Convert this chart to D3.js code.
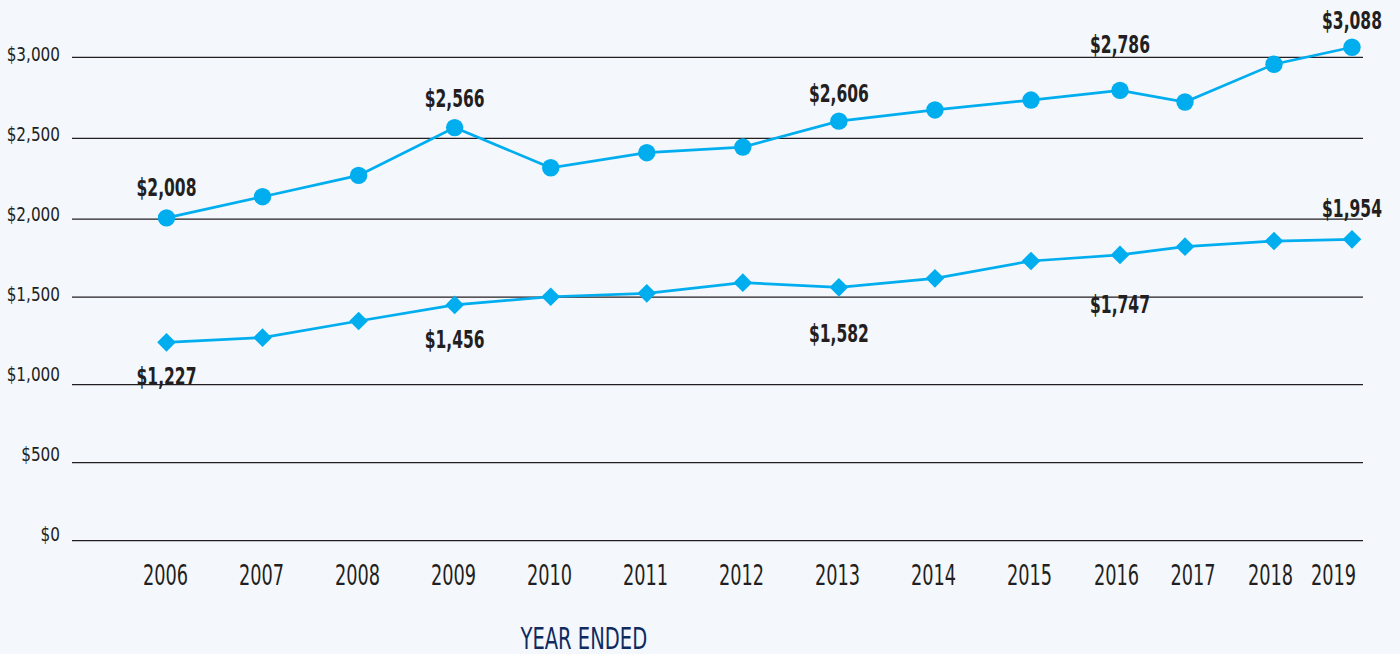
<!DOCTYPE html>
<html>
<head>
<meta charset="utf-8">
<script src="https://cdn.jsdelivr.net/npm/d3@7"></script>
<style>
  body { margin:0; background:#f4f7fc; }
  svg { display:block; }
  text { font-family:"Liberation Sans Narrow","Arial Narrow","DejaVu Sans Condensed",sans-serif; fill:#231f20; }
</style>
</head>
<body>
<svg id="chart" width="1400" height="654"></svg>
<script>
var years = [2006,2007,2008,2009,2010,2011,2012,2013,2014,2015,2016,2017,2018,2019]
// upper line, circles
var circleValues = [2008,2139,2271,2566,2318,2411,2446,2606,2675,2736,2796,2724,2957,3062]
// lower line, diamonds
var diamondValues = [1242,1269,1364,1456,1503,1525,1593,1563,1621,1732,1771,1824,1860,1871]
var yTicks = [0,500,1000,1500,2000,2500,3000]
var circleLabels = [[2006,"$2,008"],[2009,"$2,566"],[2013,"$2,606"],[2016,"$2,786"],[2019,"$3,088"]]
var diamondLabels = [[2006,"$1,227"],[2009,"$1,456"],[2013,"$1,582"],[2016,"$1,747"],[2019,"$1,954"]]
var axisTitle = "YEAR ENDED"

var blue = "#00aeef"
var svg = d3.select("#chart")

// the year spacing in the original is not even towards the end
var x = d3.scaleLinear()
  .domain([2006,2015,2016,2017,2018,2019])
  .range([166.5,1031,1120,1185,1274,1352])
var xLabel = d3.scaleLinear()
  .domain([2006,2015,2016,2017,2018,2019])
  .range([165,1029,1116,1192.5,1270,1333])
// gridlines are not quite evenly spaced either
var y = d3.scaleLinear()
  .domain(yTicks)
  .range([540.7,462.7,384.7,297.2,219.2,138.3,57.3])
var yLabel = d3.scaleLinear().domain([0,3000]).range([540,60.7])

var grid = svg.append("g")
grid.selectAll("line").data(yTicks).enter().append("line")
  .attr("x1", 72).attr("x2", 1363)
  .attr("y1", function(d){ return y(d) })
  .attr("y2", function(d){ return y(d) })
  .attr("stroke", "#231f20").attr("stroke-width", 1.2)

// fonts here are wider than the original condensed face, so squeeze horizontally
var yAxis = d3.axisLeft(yLabel).tickValues(yTicks).tickSize(0)
  .tickFormat(function(d){ return "$" + d3.format(",")(d) })
var ga = svg.append("g").attr("transform", "translate(60,0)").call(yAxis)
ga.select(".domain").remove()
ga.selectAll("text").attr("dy", 0).attr("x", 0)
  .attr("transform", "scale(0.87,1)")
  .style("font-size", "19.5px").style("font-family", null).attr("fill", "#231f20")

var xAxis = d3.axisBottom(xLabel).tickValues(years).tickSize(0).tickFormat(d3.format("d"))
var gx = svg.append("g").attr("transform", "translate(0,585)").call(xAxis)
gx.select(".domain").remove()
gx.selectAll("text").attr("dy", 0).attr("y", 0)
  .attr("transform", "scale(0.68,1)")
  .style("font-size", "29px").style("font-family", null).attr("fill", "#231f20")

svg.append("text")
  .attr("transform", "translate(520.5,648.5) scale(0.7,1)")
  .style("font-size", "31px").style("fill", "#0f2b5f")
  .text(axisTitle)

function drawSeries(values, symbol, angle) {
  var pts = years.map(function(yr, i){ return [x(yr), y(values[i])] })
  svg.append("path")
    .attr("d", d3.line()(pts))
    .attr("fill", "none").attr("stroke", blue).attr("stroke-width", 2.7)
  svg.append("g").selectAll("path").data(pts).enter().append("path")
    .attr("d", symbol)
    .attr("transform", function(p){ return "translate(" + p[0] + "," + p[1] + ") rotate(" + angle + ")" })
    .attr("fill", blue)
}
drawSeries(circleValues, d3.symbol(d3.symbolCircle, Math.PI * 8.7 * 8.7)(), 0)
drawSeries(diamondValues, d3.symbol(d3.symbolSquare, 13.2 * 13.2)(), 45)

// baseline offset of each value label from its marker
var labelDy = { "$2,008":-22, "$2,566":-20.5, "$2,606":-19, "$2,786":-37, "$3,088":-18.3,
  "$1,954":-22.6, "$1,227":42.7, "$1,456":43, "$1,582":54.4, "$1,747":58 }
function drawLabels(labels, values) {
  svg.append("g").selectAll("text").data(labels).enter().append("text")
    .attr("transform", function(d){
      var ly = y(values[years.indexOf(d[0])]) + labelDy[d[1]]
      return "translate(" + x(d[0]) + "," + ly + ") scale(0.72,1)"
    })
    .attr("text-anchor", "middle")
    .style("font-size", "24px").style("font-weight", "bold")
    .text(function(d){ return d[1] })
}
drawLabels(circleLabels, circleValues)
drawLabels(diamondLabels, diamondValues)
</script>
</body>
</html>
